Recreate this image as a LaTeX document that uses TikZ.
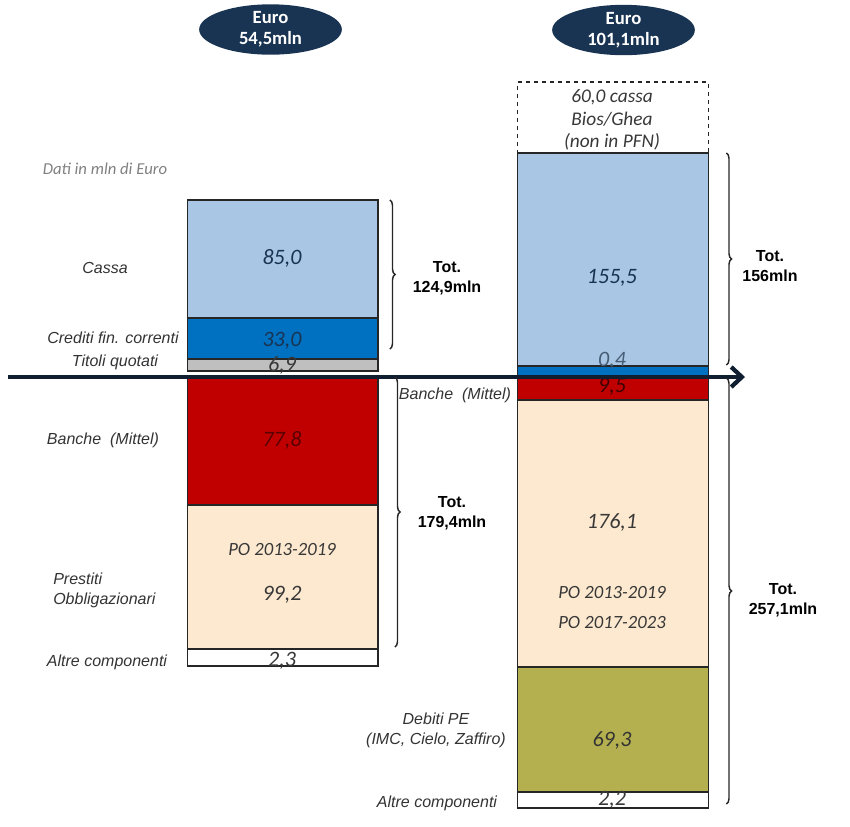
\documentclass[tikz,border=0pt]{standalone}
\usepackage{fontspec}
\setmainfont{Carlito}
\newfontfamily\arialfont{Liberation Sans}
\definecolor{navy1}{RGB}{25, 52, 82}
\definecolor{cassablue}{RGB}{169, 198, 228}
\definecolor{credblue}{RGB}{0, 112, 192}
\definecolor{titgray}{RGB}{191, 191, 191}
\definecolor{bancred}{RGB}{192, 0, 0}
\definecolor{pobeige}{RGB}{253, 233, 207}
\definecolor{peolive}{RGB}{180, 176, 80}
\definecolor{valtext}{RGB}{56, 56, 56}
\usetikzlibrary{shapes, arrows.meta, positioning, calc, decorations.pathreplacing}

\begin{document}
\begin{tikzpicture}[x=0.75pt, y=-0.75pt,
  bar/.style={draw=black!85, line width=1pt, minimum width=143pt, inner sep=0pt, outer sep=0pt},
  val/.style={font=\fontsize{16.5}{18}\selectfont\itshape, text=valtext, inner sep=0pt},
  lbl/.style={font=\arialfont\fontsize{12}{15}\selectfont\itshape, text=black!80, inner sep=0pt},
  tot/.style={font=\arialfont\fontsize{12}{15}\selectfont\bfseries, align=center, inner sep=0pt},
  brc/.style={decorate, decoration={brace, amplitude=4pt}, line width=1.1pt, black!85},
  euro/.style={ellipse, fill=navy1, minimum width=107pt, minimum height=36pt, text=white, align=center, inner sep=0pt, font=\fontsize{14}{15.75}\selectfont\bfseries}]

  \useasboundingbox (0,0) rectangle (850,826);

  % Headers
  \node[euro] (eurL) at (270.5,29.5) {Euro\\54,5mln};
  \node[euro] (eurR) at (623.5,30) {Euro\\101,1mln};
  \node[font=\fontsize{12.5}{14}\selectfont\itshape, text=black!50, inner sep=0pt] (dati) at (105,169) {Dati in mln di Euro};

  % Left column
  \node[bar, fill=cassablue, minimum height=88.5pt] (cassaL) at (282.5,259) {};
  \node[bar, fill=credblue, minimum height=30.75pt, below=0pt of cassaL] (credL) {};
  \node[bar, fill=titgray, minimum height=9pt, below=0pt of credL] (titL) {};
  \node[bar, fill=bancred, minimum height=96pt] (bancL) at (282.5,441) {};
  \node[bar, fill=pobeige, minimum height=108pt, below=0pt of bancL] (poL) {};
  \node[bar, fill=white, minimum height=12.75pt, below=0pt of poL] (altL) {};

  \node[val, text=navy1] (vCassaL) at (282,258) {85,0};
  \node[val, text=navy1] (vCredL) at (282,341) {33,0};
  \node[val] (vTitL) at (282,365) {6,9};
  \node[val, text=red!35!black] (vBancL) at (282,440) {77,8};
  \node[val, font=\fontsize{14}{16}\selectfont\itshape] (vPoL1) at (282,549) {PO 2013-2019};
  \node[val] (vPoL2) at (282,595) {99,2};
  \node[val] (vAltL) at (282,661) {2,3};

  % Right column
  \node[bar, draw=black!85, dashed, minimum height=53.25pt] (dashR) at (613,117.5) {};
  \node[bar, fill=cassablue, minimum height=159.75pt, below=0pt of dashR] (cassaR) {};
  \node[bar, fill=credblue, minimum height=9pt, below=0pt of cassaR] (credR) {};
  \node[bar, fill=bancred, minimum height=16.5pt, below=0pt of credR] (bancR) {};
  \node[bar, fill=pobeige, minimum height=200.25pt, below=0pt of bancR] (poR) {};
  \node[bar, fill=peolive, minimum height=93.75pt, below=0pt of poR] (debR) {};
  \node[bar, fill=white, minimum height=12pt, below=0pt of debR] (altR) {};

  \node[val, font=\fontsize{14.5}{16.9}\selectfont\itshape, align=center] (vDashR) at (612,120) {60,0 cassa\\Bios/Ghea\\(non in PFN)};
  \node[val, text=navy1] (vCassaR) at (612,278) {155,5};
  \node[val, text=navy1!80] (vCredR) at (612,361) {0,4};
  \node[val, text=red!25!black] (vBancR) at (612,387) {9,5};
  \node[val] (vPoR1) at (612,522) {176,1};
  \node[val, font=\fontsize{14}{16}\selectfont\itshape] (vPoR2) at (612,592) {PO 2013-2019};
  \node[val, font=\fontsize{14}{16}\selectfont\itshape] (vPoR3) at (612,622) {PO 2017-2023};
  \node[val, text=black!80] (vDebR) at (612,740) {69,3};
  \node[val] (vAltR) at (612,800) {2,2};

  % Axis
  \coordinate (axL) at (8,377);
  \coordinate (axR) at (745,377);
  \draw[line width=3.2pt, navy1!60!black, -{Straight Barb[length=8pt, width=15pt]}] (axL) -- (axR);

  % Side labels
  \node[lbl] (lCassa) at (105,268) {Cassa};
  \node[lbl] (lCred) at (113,338) {Crediti fin. correnti};
  \node[lbl] (lTit) at (115,362) {Titoli quotati};
  \node[lbl] (lBancL) at (103,440) {Banche\ \ (Mittel)};
  \node[lbl, align=left, anchor=west] (lPres) at (53,590) {Prestiti\\Obbligazionari};
  \node[lbl] (lAltL) at (107,662) {Altre componenti};
  \node[lbl] (lBancR) at (455,395) {Banche\ \ (Mittel)};
  \node[lbl, align=center] (lDeb) at (436,730) {Debiti PE\\(IMC, Cielo, Zaffiro)};
  \node[lbl] (lAltR) at (437,803) {Altre componenti};

  % Totals
  \draw[brc] ($(cassaL.north east)+(12,0)$) -- ($(credL.south east)+(12,-10)$);
  \draw[brc] ($(bancL.north east)+(17,0)$) -- ($(poL.south east)+(17,-2)$);
  \draw[brc] ($(cassaR.north east)+(18,0)$) -- ($(cassaR.south east)+(18,-1)$);
  \draw[brc] ($(bancR.north east)+(18,0)$) -- ($(altR.south east)+(18,-4)$);
  \node[tot] (totL1) at (447,278) {Tot.\\124,9mln};
  \node[tot] (totL2) at (452,513) {Tot.\\179,4mln};
  \node[tot] (totR1) at (770,266) {Tot.\\156mln};
  \node[tot] (totR2) at (783,600) {Tot.\\257,1mln};
\end{tikzpicture}
\end{document}
